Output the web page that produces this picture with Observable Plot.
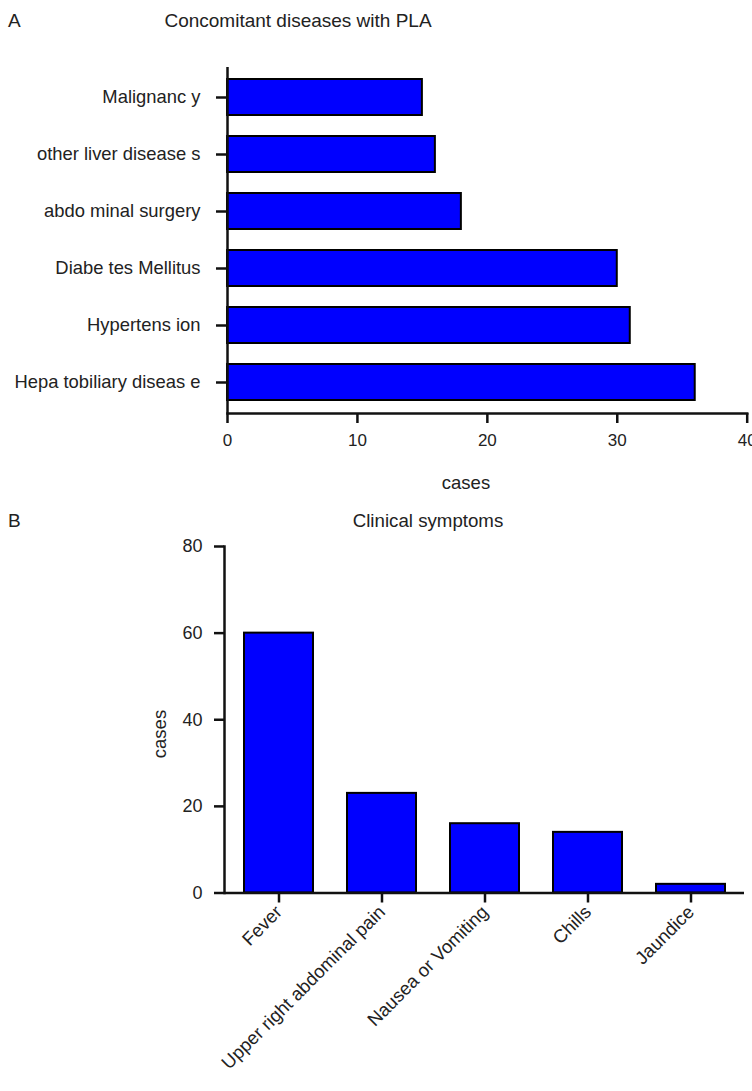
<!DOCTYPE html>
<html>
<head>
<meta charset="utf-8">
<script src="https://cdn.jsdelivr.net/npm/d3@7"></script>
<script src="https://cdn.jsdelivr.net/npm/@observablehq/plot@0.6"></script>
<style>
  html, body { margin: 0; padding: 0; background: #fff; overflow: hidden; }
  #wrap { position: relative; width: 752px; height: 1091px; font-family: "Liberation Sans", Arial, sans-serif; color: #222; }
  .t { position: absolute; white-space: nowrap; line-height: 1; }
  .plot { position: absolute; left: 0; }
  svg { overflow: visible; }
</style>
</head>
<body>
<div id="wrap">
  <div class="t" style="left:8px; top:11px; font-size:19px;">A</div>
  <div class="t" style="left:298px; top:11px; font-size:19px; transform:translateX(-50%);">Concomitant diseases with PLA</div>
  <div class="t" style="left:466px; top:474px; font-size:18.5px; transform:translateX(-50%);">cases</div>
  <div class="t" style="left:8px; top:511px; font-size:19px;">B</div>
  <div class="t" style="left:428px; top:512px; font-size:18.7px; transform:translateX(-50%);">Clinical symptoms</div>
  <div class="t" style="left:160px; top:734px; font-size:18.5px; transform:translate(-50%,-50%) rotate(-90deg);">cases</div>
  <div id="pa" class="plot" style="top:0px;"></div>
  <div id="pb" class="plot" style="top:500px;"></div>
</div>
<script>
// Panel A: concomitant diseases
const diseases = ["Malignanc y", "other liver disease s", "abdo minal surgery", "Diabe tes Mellitus", "Hypertens ion", "Hepa tobiliary diseas e"];
const diseaseCases = [15, 16, 18, 30, 31, 36];
const xTicksA = [0, 10, 20, 30, 40];

// Panel B: clinical symptoms
const symptoms = ["Fever", "Upper right abdominal pain", "Nausea or Vomiting", "Chills", "Jaundice"];
const symptomCases = [60, 23, 16, 14, 2];
const yTicksB = [0, 20, 40, 60, 80];

const dataA = diseases.map((d, i) => ({name: d, value: diseaseCases[i]}));
const dataB = symptoms.map((d, i) => ({name: d, value: symptomCases[i]}));

const fontStyle = {fontFamily: "Liberation Sans, Arial, sans-serif", background: "transparent", color: "#222", overflow: "visible"};
const axisInk = "#111";

const plotA = Plot.plot({
  width: 752,
  height: 500,
  marginTop: 67,
  marginBottom: 87,
  marginLeft: 227,
  marginRight: 5.3,
  style: {...fontStyle, fontSize: "16px"},
  x: {domain: [0, 40], ticks: xTicksA},
  y: {domain: diseases, paddingInner: 0.36, paddingOuter: 0.19},
  marks: [
    Plot.barX(dataA, {x: "value", y: "name", fill: "#0000ff", stroke: "#000", strokeWidth: 2}),
    Plot.frame({anchor: "bottom", stroke: axisInk, strokeWidth: 2.5}),
    Plot.ruleX([0], {stroke: axisInk, strokeWidth: 2.5}),
    Plot.axisX({ticks: xTicksA, tickSize: 10, tickPadding: 10, label: null, strokeWidth: 2.5, fontSize: 17, stroke: axisInk}),
    Plot.axisY({tickSize: 11, tickPadding: 16, label: null, strokeWidth: 2.5, fontSize: 18.4, stroke: axisInk})
  ]
});
document.getElementById("pa").appendChild(plotA);

const plotB = Plot.plot({
  width: 752,
  height: 591,
  marginTop: 46,
  marginBottom: 198.5,
  marginLeft: 224,
  marginRight: 8,
  style: {...fontStyle, fontSize: "16px"},
  x: {domain: symptoms, paddingInner: 0.333, paddingOuter: 0.167},
  y: {domain: [0, 80], ticks: yTicksB},
  marks: [
    Plot.barY(dataB, {x: "name", y: "value", fill: "#0000ff", stroke: "#000", strokeWidth: 2}),
    Plot.frame({anchor: "left", stroke: axisInk, strokeWidth: 2.5}),
    Plot.ruleY([0], {stroke: axisInk, strokeWidth: 2.5}),
    Plot.axisX({tickSize: 10, tickPadding: 6, label: null, tickRotate: -45, strokeWidth: 2.5, fontSize: 18.5, stroke: axisInk}),
    Plot.axisY({ticks: yTicksB, tickSize: 10, tickPadding: 12, label: null, strokeWidth: 2.5, fontSize: 18, stroke: axisInk})
  ]
});
document.getElementById("pb").appendChild(plotB);
</script>
</body>
</html>
